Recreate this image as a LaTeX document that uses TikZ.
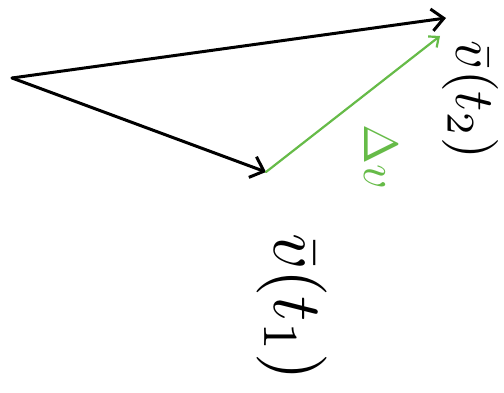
\documentclass[tikz,border=0pt]{standalone}
\usepackage{amsmath}
\usepackage{graphicx}
\usetikzlibrary{arrows.meta}
\definecolor{sketchgreen}{RGB}{102,187,72}
\tikzset{
  vec/.style={line width=3pt, line cap=round, -{Straight Barb[length=12pt,width=22pt,line width=3pt]}},
  gvec/.style={sketchgreen, line width=2.2pt, line cap=round, -{Straight Barb[length=8pt,width=14pt,line width=2.2pt]}},
  lbl/.style={rotate=-90, inner sep=0pt},
}
\begin{document}
\begin{tikzpicture}[x=1pt,y=1pt]
\useasboundingbox (0,0) rectangle (504,392);
\coordinate (O) at (12,314);
\coordinate (A) at (446,374);
\coordinate (B) at (266,220);
\coordinate (G) at (440,356);
\draw[vec] (O) -- (A);
\draw[vec] (O) -- (B);
\draw[gvec] (B) -- (G);
\node[lbl] (t2) at (470,292) {\scalebox{5.6}{$\bar{v}(t_2)$}};
\node[lbl] (t1) at (292,85) {\scalebox{7}{$\bar{v}(t_1)$}};
\node[lbl, sketchgreen] (dv) at (381,235) {\scalebox{4.8}{$\Delta v$}};
\end{tikzpicture}
\end{document}
